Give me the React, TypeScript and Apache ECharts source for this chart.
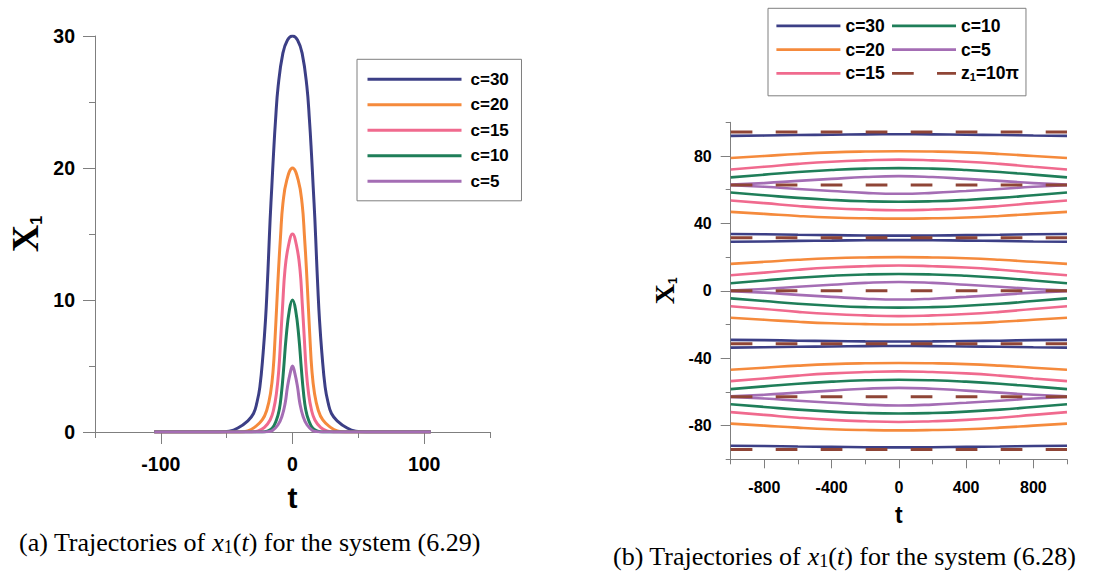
import React, { useEffect, useRef } from "react";
import * as echarts from "echarts";

// ---------- data ----------
const SERIES_NAMES = ["c=30", "c=20", "c=15", "c=10", "c=5"];
const COLORS = ["#3c3f86", "#f58a3c", "#f06a8e", "#1f7e59", "#a46db4"];
const Z_NAME = "z1";
const Z_COLOR = "#8f4536";

// (a) half profiles (t >= 0); the curves are symmetric in t
const A_T30 = [0, 3.8, 7.3, 10.9, 12.9, 14.4, 15.7, 17.0, 18.1, 19.2, 20.5, 22.3, 24.8, 27.1, 29.6, 33.9, 41.5, 48, 56, 105];
const A_V30 = [30, 29.7, 28.7, 26.2, 23.6, 21.1, 18.6, 16.1, 13.5, 11.0, 8.5, 6.0, 3.4, 2.2, 1.4, 0.85, 0.3, 0.06, 0, 0];
const A_T20 = [0, 4.3, 7.3, 9.1, 10.6, 11.9, 13.2, 14.7, 16.7, 19.5, 23.0, 28.9, 34, 40, 105];
const A_V20 = [20, 19.1, 17.3, 14.8, 12.3, 9.75, 7.2, 4.7, 2.93, 1.67, 0.91, 0.35, 0.08, 0, 0];
const A_T15 = [0, 3.2, 5.7, 7.4, 8.9, 10.4, 12.2, 14.4, 17.0, 21.3, 26, 31, 105];
const A_V15 = [15, 14.05, 12.3, 9.75, 7.2, 4.7, 2.93, 1.67, 0.91, 0.35, 0.08, 0, 0];
const A_T10 = [0, 2.3, 4.8, 6.8, 8.4, 10.1, 12.2, 15.4, 19, 23, 105];
const A_V10 = [10, 9.28, 7.2, 4.7, 2.93, 1.67, 0.91, 0.28, 0.07, 0, 0];
const A_T5 = [0, 1.8, 3.8, 5.6, 8.1, 11.1, 15.2, 18.5, 22, 105];
const A_V5 = [5, 4.44, 3.43, 2.17, 1.16, 0.53, 0.12, 0.03, 0, 0];
const A_T = [A_T30, A_T20, A_T15, A_T10, A_T5];
const A_V = [A_V30, A_V20, A_V15, A_V10, A_V5];

// (b) offsets from each centre level
const B_T = [-1000, -800, -600, -400, -200, 0, 200, 400, 600, 800, 1000];
const B_OFF30 = [29.1, 29.3, 29.6, 29.8, 30.0, 30.1, 30.0, 29.8, 29.6, 29.3, 29.1];
const B_OFF20 = [16.0, 17.2, 18.4, 19.3, 19.8, 20.0, 19.8, 19.3, 18.4, 17.2, 16.0];
const B_OFF15 = [9.2, 10.8, 12.5, 13.8, 14.6, 15.0, 14.6, 13.8, 12.5, 10.8, 9.2];
const B_OFF10 = [4.5, 6.1, 7.7, 8.9, 9.7, 10.0, 9.7, 8.9, 7.7, 6.1, 4.5];
const B_OFF5 = [0.2, 1.1, 2.4, 3.6, 4.7, 5.2, 4.7, 3.6, 2.4, 1.1, 0.2];
const B_OFFS = [B_OFF30, B_OFF20, B_OFF15, B_OFF10, B_OFF5];
const B_CENTERS = [-62.83, 0, 62.83];
const Z_LEVELS = [-94.25, -62.83, -31.42, 0, 31.42, 62.83, 94.25];

const LEGEND_B_ORDER = ["c=30", "c=10", "c=20", "c=5", "c=15", "z1"];

// ---------- styles ----------
const AX = "#7f7f7f";
const SANS = "Liberation Sans";
const SERIF = "Liberation Serif";

function mirror(t: number[], v: number[]) {
  const left = t.map((x, k) => [-x, v[k]]).reverse();
  const right = t.slice(1).map((x, k) => [x, v[k + 1]]);
  return left.concat(right);
}

function buildOption() {
  const series: any[] = [];
  A_T.forEach((t, i) => {
    series.push({
      type: "line",
      name: SERIES_NAMES[i],
      xAxisIndex: 0,
      yAxisIndex: 0,
      data: mirror(t, A_V[i]),
      smooth: 0.45,
      symbol: "none",
      silent: true,
      lineStyle: { width: 3, color: COLORS[i] },
      itemStyle: { color: COLORS[i] },
    });
  });
  B_OFFS.forEach((off, i) => {
    B_CENTERS.forEach((c) => {
      [1, -1].forEach((sgn) => {
        series.push({
          type: "line",
          name: SERIES_NAMES[i],
          xAxisIndex: 2,
          yAxisIndex: 2,
          data: B_T.map((t, k) => [t, c + sgn * off[k]]),
          smooth: 0.5,
          symbol: "none",
          silent: true,
          lineStyle: { width: 2.6, color: COLORS[i] },
          itemStyle: { color: COLORS[i] },
        });
      });
    });
  });
  Z_LEVELS.forEach((z) => {
    series.push({
      type: "line",
      name: Z_NAME,
      xAxisIndex: 2,
      yAxisIndex: 2,
      data: [[B_T[0], z], [B_T[B_T.length - 1], z]],
      symbol: "none",
      silent: true,
      lineStyle: { width: 3, color: Z_COLOR, type: [21.7, 23.3] },
      itemStyle: { color: Z_COLOR },
    });
  });

  const lbl = (size: number, margin: number) => ({
    color: "#000",
    fontFamily: SANS,
    fontWeight: "bold",
    fontSize: size,
    margin,
  });
  const hidden = { show: false };

  const capRich = {
    n: { fontFamily: SERIF, fontWeight: "normal", fontSize: 26, color: "#000", lineHeight: 28 },
    i: { fontFamily: SERIF, fontWeight: "normal", fontStyle: "italic", fontSize: 26, color: "#000", lineHeight: 28 },
    s: { fontFamily: SERIF, fontWeight: "normal", fontSize: 18, color: "#000", lineHeight: 15, verticalAlign: "bottom" },
  };
  const noSymbol = { color: "rgba(0,0,0,0)", borderColor: "rgba(0,0,0,0)", borderWidth: 0, opacity: 0 };

  return {
    animation: false,
    textStyle: { fontFamily: SANS },
    title: [
      {
        text: "{n|(a) Trajectories of }{i|x}{s|1}{n|(}{i|t}{n|) for the system (6.29)}",
        left: 19,
        top: 528,
        padding: 0,
        textStyle: { fontSize: 26, fontWeight: "normal", rich: capRich },
      },
      {
        text: "{n|(b) Trajectories of }{i|x}{s|1}{n|(}{i|t}{n|) for the system (6.28)}",
        left: 613,
        top: 542,
        padding: 0,
        textStyle: { fontSize: 26, fontWeight: "normal", rich: capRich },
      },
    ],
    legend: [
      {
        data: SERIES_NAMES.map((n) => ({ name: n })),
        orient: "vertical",
        left: 357,
        top: 59.3,
        itemWidth: 94,
        itemHeight: 18,
        itemGap: 8.5,
        padding: [11.5, 12.7, 11, 9],
        borderColor: AX,
        borderWidth: 1,
        selectedMode: false,
        itemStyle: noSymbol,
        lineStyle: { width: 3 },
        textStyle: { fontSize: 17, fontWeight: "bold", color: "#000", fontFamily: SANS, padding: [0, 0, 0, 4] },
      },
      {
        data: LEGEND_B_ORDER.map((n) =>
          n === Z_NAME ? { name: n, textStyle: { width: 58 } } : { name: n }
        ),
        orient: "horizontal",
        left: 768,
        top: 8.3,
        width: 250,
        itemWidth: 64,
        itemHeight: 18,
        itemGap: 5.8,
        padding: [8.5, 7, 13.4, 7],
        borderColor: AX,
        borderWidth: 1,
        selectedMode: false,
        itemStyle: noSymbol,
        lineStyle: { width: 2.8 },
        formatter: (name: string) => (name === Z_NAME ? "{z|z}{s|1}{z|=10π}" : name),
        textStyle: {
          fontSize: 17.5,
          fontWeight: "bold",
          color: "#000",
          fontFamily: SANS,
          width: 46.2,
          rich: {
            z: { fontSize: 17.5, fontWeight: "bold", color: "#000", fontFamily: SANS },
            s: { fontSize: 11, fontWeight: "bold", color: "#000", fontFamily: SANS, verticalAlign: "bottom", lineHeight: 12 },
          },
        },
      },
    ],
    grid: [
      { left: 95, top: 36, width: 395, height: 396 },
      { left: 95 + (50 * 395) / 300, top: 36, width: (200 * 395) / 300, height: 396 },
      { left: 730.7, top: 122.3, width: 336.3, height: 337 },
      { left: 730.7 + 336.3 * 0.1, top: 122.3, width: 336.3 * 0.8, height: 337 },
      { left: 730.7, top: 122.3 + 337 * 0.1, width: 336.3, height: 337 * 0.8 },
    ],
    xAxis: [
      {
        gridIndex: 0, type: "value", min: -150, max: 150, interval: 50,
        axisLine: { show: true, onZero: false, lineStyle: { color: AX } },
        axisTick: { show: true, length: 6, lineStyle: { color: AX } },
        axisLabel: hidden, splitLine: hidden,
      },
      {
        gridIndex: 1, type: "value", min: -100, max: 100, interval: 100,
        axisLine: { show: false, onZero: false },
        axisTick: { show: true, length: 12, lineStyle: { color: AX } },
        axisLabel: lbl(19.5, 22),
        splitLine: hidden,
        name: "t", nameLocation: "middle", nameGap: 50,
        nameTextStyle: { fontSize: 30, fontWeight: "bold", color: "#000", fontFamily: SANS },
      },
      {
        gridIndex: 2, type: "value", min: -1000, max: 1000, interval: 200,
        axisLine: { show: true, onZero: false, lineStyle: { color: AX } },
        axisTick: { show: true, length: 5, lineStyle: { color: AX } },
        axisLabel: hidden, splitLine: hidden,
      },
      {
        gridIndex: 3, type: "value", min: -800, max: 800, interval: 400,
        axisLine: { show: false, onZero: false },
        axisTick: { show: true, length: 9, lineStyle: { color: AX } },
        axisLabel: lbl(16, 20),
        splitLine: hidden,
        name: "t", nameLocation: "middle", nameGap: 44,
        nameTextStyle: { fontSize: 23, fontWeight: "bold", color: "#000", fontFamily: SANS },
      },
      { gridIndex: 4, type: "value", show: false, min: 0, max: 1 },
    ],
    yAxis: [
      {
        gridIndex: 0, type: "value", min: 0, max: 30, interval: 10,
        axisLine: { show: true, onZero: false, lineStyle: { color: AX } },
        axisTick: { show: true, length: 12, lineStyle: { color: AX } },
        minorTick: { show: true, splitNumber: 2, length: 6, lineStyle: { color: AX } },
        axisLabel: lbl(19.5, 20),
        splitLine: hidden, minorSplitLine: hidden,
        name: "{x|X}{s|1}", nameLocation: "middle", nameRotate: 90, nameGap: 51,
        nameTextStyle: {
          rich: {
            x: { fontFamily: SERIF, fontWeight: "bold", fontSize: 38, lineHeight: 38, color: "#000" },
            s: { fontFamily: SANS, fontWeight: "bold", fontSize: 16, lineHeight: 10, verticalAlign: "bottom", color: "#000" },
          },
        },
      },
      { gridIndex: 1, type: "value", show: false, min: 0, max: 1 },
      {
        gridIndex: 2, type: "value", min: -100, max: 100, interval: 20,
        axisLine: { show: true, onZero: false, lineStyle: { color: AX } },
        axisTick: { show: true, length: 5, lineStyle: { color: AX } },
        axisLabel: hidden, splitLine: hidden,
        name: "{x|X}{s|1}", nameLocation: "middle", nameRotate: 90, nameGap: 52,
        nameTextStyle: {
          rich: {
            x: { fontFamily: SERIF, fontWeight: "bold", fontSize: 28, lineHeight: 28, color: "#000" },
            s: { fontFamily: SANS, fontWeight: "bold", fontSize: 12, lineHeight: 7, verticalAlign: "bottom", color: "#000" },
          },
        },
      },
      { gridIndex: 3, type: "value", show: false, min: 0, max: 1 },
      {
        gridIndex: 4, type: "value", min: -80, max: 80, interval: 40,
        axisLine: { show: false, onZero: false },
        axisTick: { show: true, length: 10, lineStyle: { color: AX } },
        axisLabel: lbl(16, 19),
        splitLine: hidden,
      },
    ],
    series,
  };
}

export default function App() {
  const ref = useRef<HTMLDivElement>(null);
  useEffect(() => {
    if (!ref.current) return;
    const chart = echarts.init(ref.current, undefined, { renderer: "svg" });
    chart.setOption(buildOption() as any);
    return () => chart.dispose();
  }, []);
  return (
    <div
      ref={ref}
      style={{ position: "fixed", left: 0, top: 0, width: 1098, height: 575, background: "#fff" }}
    />
  );
}
